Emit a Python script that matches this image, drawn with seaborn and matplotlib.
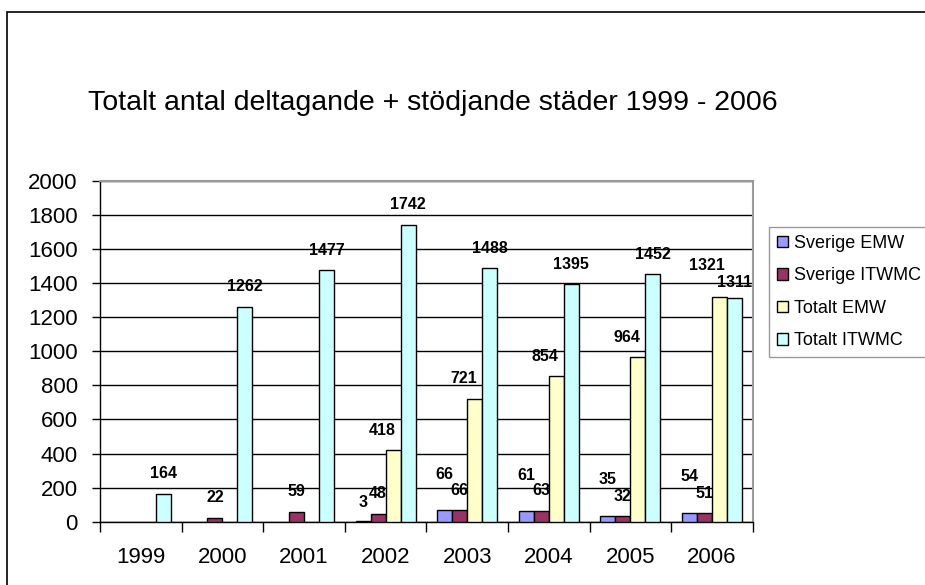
import numpy as np
import pandas as pd
import matplotlib
matplotlib.use("Agg")
import matplotlib.pyplot as plt
from matplotlib.patches import Rectangle, Patch
import seaborn as sns

years = [1999, 2000, 2001, 2002, 2003, 2004, 2005, 2006]
series = ["Sverige EMW", "Sverige ITWMC", "Totalt EMW", "Totalt ITWMC"]
sverige_emw = [np.nan, np.nan, np.nan, 3, 66, 61, 35, 54]
sverige_itwmc = [np.nan, 22, 59, 48, 66, 63, 32, 51]
totalt_emw = [np.nan, np.nan, np.nan, 418, 721, 854, 964, 1321]
totalt_itwmc = [164, 1262, 1477, 1742, 1488, 1395, 1452, 1311]
colors = ["#9999FF", "#993366", "#FFFFCC", "#CCFFFF"]

rows = []
for name, vals in zip(series, [sverige_emw, sverige_itwmc, totalt_emw, totalt_itwmc]):
    for y, v in zip(years, vals):
        rows.append({"year": str(y), "serie": name, "antal": v})
df = pd.DataFrame(rows).dropna()

sns.set_style("white")
plt.rcParams["font.family"] = ["Liberation Sans", "DejaVu Sans"]
plt.rcParams["text.color"] = "black"
plt.rcParams["xtick.color"] = "black"
plt.rcParams["ytick.color"] = "black"

fig = plt.figure(figsize=(9.25, 5.85), dpi=100)
W, H = 925, 585
ax = fig.add_axes([100 / W, 1 - 521.7 / H, (752.7 - 100) / W, (521.7 - 181) / H])

sns.barplot(data=df, x="year", y="antal", hue="serie", hue_order=series,
            order=[str(y) for y in years], palette=colors, width=0.735, gap=0,
            edgecolor="black", linewidth=1.0, saturation=1, ax=ax, legend=False,
            errorbar=None, zorder=3)

ax.set_xlim(-0.5, len(years) - 0.5)
ax.set_ylim(0, 2000)
ax.set_yticks(range(0, 2001, 200))
ax.yaxis.grid(True, color="black", linewidth=1.0, zorder=0)
ax.set_axisbelow(True)
ax.set_xlabel("")
ax.set_ylabel("")

for s in ["top", "right"]:
    ax.spines[s].set_color("#999999")
    ax.spines[s].set_linewidth(1.5)
for s in ["left", "bottom"]:
    ax.spines[s].set_color("black")
    ax.spines[s].set_linewidth(1.0)

ax.tick_params(axis="y", which="major", left=True, length=6, width=1,
               color="black", labelcolor="black", pad=10, labelsize=16,
               direction="out")
ax.tick_params(axis="x", which="major", bottom=False, length=0, pad=18,
               labelsize=16, labelcolor="black")
ax.set_xticks(np.arange(-0.5, len(years), 1.0), minor=True)
ax.tick_params(axis="x", which="minor", bottom=True, length=7, width=1,
               color="black", direction="out")

# data labels
offsets = {"Sverige EMW": (0, 36), "Sverige ITWMC": (0, 20),
           "Totalt EMW": (-11, 20), "Totalt ITWMC": (0, 20)}
special = {("Sverige EMW", 3): (0, 19), ("Totalt EMW", 1321): (-12, 31),
           ("Totalt ITWMC", 1311): (0, 16)}
for name, cont in zip(series, ax.containers):
    for bar in cont:
        h = bar.get_height()
        if np.isnan(h):
            continue
        dx, dy = special.get((name, int(h)), offsets[name])
        ax.annotate(f"{int(h)}", xy=(bar.get_x() + bar.get_width() / 2, h),
                    xytext=(dx, dy), textcoords="offset pixels",
                    ha="center", va="center", fontsize=11.5, fontweight="bold",
                    color="black", zorder=5, annotation_clip=False)

handles = [Patch(facecolor=c, edgecolor="black", linewidth=1.0) for c in colors]
leg = fig.legend(handles, series, loc="upper left",
                 bbox_to_anchor=(769 / W, 1 - 227 / H), fontsize=13,
                 frameon=True, fancybox=False, shadow=False, borderpad=0.45,
                 labelspacing=0.85, handlelength=0.6, handleheight=0.6,
                 handletextpad=0.35, borderaxespad=0)
leg.get_frame().set_edgecolor("#808080")
leg.get_frame().set_linewidth(1.0)

fig.text(88 / W, 1 - 103 / H, "Totalt antal deltagande + stödjande städer 1999 - 2006",
         ha="left", va="center", fontsize=20.5, color="black")

fig.patches.append(Rectangle((7 / W, -0.05), 1.2, 1.05 - 12 / H,
                             transform=fig.transFigure, fill=False,
                             edgecolor="black", linewidth=1.2, clip_on=False))

fig.savefig("out.png", dpi=100)
